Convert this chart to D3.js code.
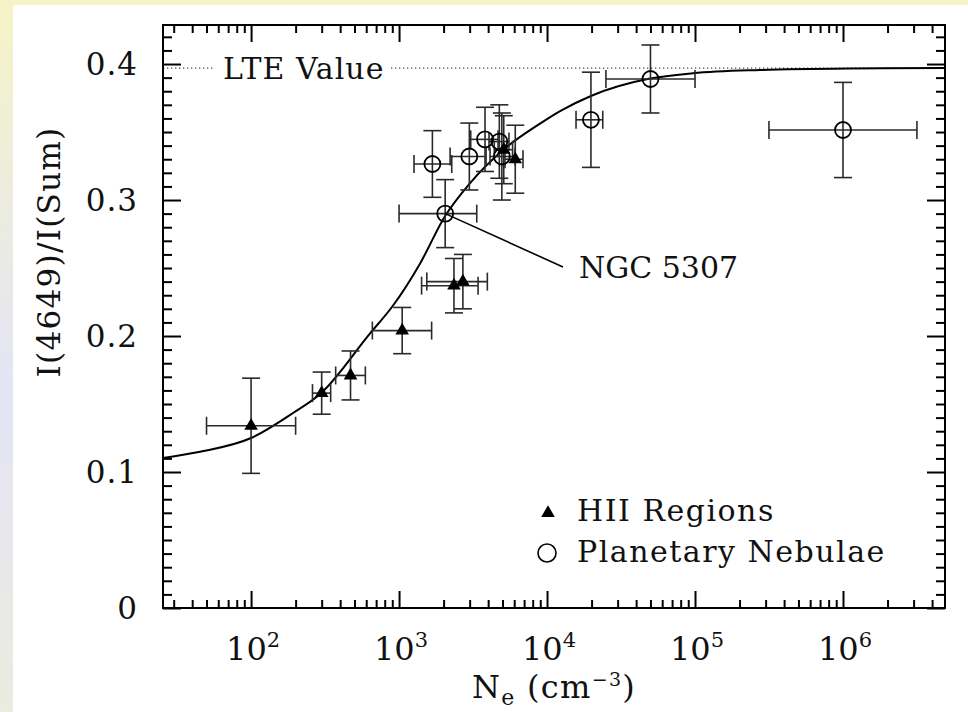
<!DOCTYPE html>
<html lang="en">
  <head>
    <meta charset="UTF-8" />
    <title>I(4649)/I(Sum) vs Ne</title>
    <script src="https://d3js.org/d3.v7.min.js"></script>
    <style>
      body {
        margin: 0;
        background-color: #ffffff;
      }
      text {
        font-family: "DejaVu Serif", serif;
        fill: #111;
      }
    </style>
  </head>
  <body>
    <div id="my_dataviz"></div>
    <script>
      // HII regions (filled triangles)
      var hiiNe = [100, 300, 470, 1050, 2350, 2700, 5100, 6100];
      var hiiNeLo = [50, 260, 373, 660, 1420, 1540, 4400, 5200];
      var hiiNeHi = [200, 345, 592, 1660, 3420, 3950, 5850, 6880];
      var hiiRatio = [0.134, 0.158, 0.171, 0.204, 0.237, 0.24, 0.337, 0.33];
      var hiiErr = [0.035, 0.0155, 0.018, 0.017, 0.02, 0.02, 0.025, 0.025];

      // planetary nebulae (open circles)
      var pnNe = [1680, 2050, 2985, 3810, 4760, 4950, 19800, 50000, 1000000];
      var pnNeLo = [1262, 1000, 2213, 3050, 4055, 4120, 15700, 25000, 316000];
      var pnNeHi = [2270, 3350, 3873, 4665, 5530, 6080, 23800, 100000, 3160000];
      var pnRatio = [0.3265, 0.29, 0.332, 0.3446, 0.343, 0.332, 0.359, 0.389, 0.3515];
      var pnErr = [0.0245, 0.025, 0.0246, 0.0236, 0.027, 0.032, 0.035, 0.025, 0.035];

      // model curve
      var fitNe = [25.4, 45.2, 100, 192, 293, 637, 898, 1388, 2047, 3021, 5048, 8970, 12250, 19800, 49700, 96800, 275000, 1110000, 4890000];
      var fitRatio = [0.1103, 0.1149, 0.125, 0.1434, 0.1574, 0.202, 0.2215, 0.2534, 0.2882, 0.3125, 0.3368, 0.3562, 0.3654, 0.3765, 0.3893, 0.3932, 0.3956, 0.3967, 0.397];

      var lteValue = 0.397;
      var yTicks = [0, 0.1, 0.2, 0.3, 0.4];
      var yTickLabels = ["0", "0.1", "0.2", "0.3", "0.4"];
      var xTicks = [100, 1000, 10000, 100000, 1000000];
      var xTickExps = ["2", "3", "4", "5", "6"];

      var W = 968, H = 712;
      var margin = { top: 25, right: 23, bottom: 104, left: 163 };
      var x0 = margin.left, x1 = W - margin.right;
      var y0 = H - margin.bottom, y1 = margin.top;

      var svg = d3
        .select("#my_dataviz")
        .append("svg")
        .attr("width", W)
        .attr("height", H);

      // page frame with pale gradient strips
      var defs = svg.append("defs");
      var grad = defs.append("linearGradient")
        .attr("id", "leftgrad")
        .attr("x1", 0).attr("y1", 0).attr("x2", 0).attr("y2", 1);
      grad.append("stop").attr("offset", "0%").attr("stop-color", "#f6f4c6");
      grad.append("stop").attr("offset", "55%").attr("stop-color", "#e4e4f6");
      grad.append("stop").attr("offset", "100%").attr("stop-color", "#ecebdf");

      svg.append("rect").attr("width", W).attr("height", H).attr("fill", "#fff");
      svg.append("rect").attr("width", W).attr("height", 5).attr("fill", "#f6f4c6");
      svg.append("rect").attr("width", 13).attr("height", H).attr("fill", "url(#leftgrad)");

      var x = d3.scaleLog().domain([25.4, 4.89e6]).range([x0, x1]);
      var y = d3.scaleLinear().domain([0, 0.4287]).range([y0, y1]);

      // minor ticks
      var xMinor = [];
      for (var e = 1; e <= 6; e++) {
        for (var m = 2; m <= 9; m++) {
          var v = m * Math.pow(10, e);
          if (v > x.domain()[0] && v < x.domain()[1]) xMinor.push(v);
        }
      }
      var yMinor = d3.range(0, 43).map(function (i) { return i / 100; })
        .filter(function (v) { return Math.round(v * 100) % 10 !== 0; });

      function styleAxis(g) {
        g.select(".domain").remove();
        g.selectAll("line").attr("stroke", "#000").attr("stroke-width", 2);
        g.selectAll("text").remove();
      }

      // bottom and top
      svg.append("g").attr("transform", "translate(0," + y0 + ")")
        .call(d3.axisTop(x).tickValues(xTicks).tickSize(17)).call(styleAxis);
      svg.append("g").attr("transform", "translate(0," + y0 + ")")
        .call(d3.axisTop(x).tickValues(xMinor).tickSize(8)).call(styleAxis);
      svg.append("g").attr("transform", "translate(0," + y1 + ")")
        .call(d3.axisBottom(x).tickValues(xTicks).tickSize(17)).call(styleAxis);
      svg.append("g").attr("transform", "translate(0," + y1 + ")")
        .call(d3.axisBottom(x).tickValues(xMinor).tickSize(8)).call(styleAxis);

      // left and right
      svg.append("g").attr("transform", "translate(" + x0 + ",0)")
        .call(d3.axisRight(y).tickValues(yTicks).tickSize(18)).call(styleAxis);
      svg.append("g").attr("transform", "translate(" + x0 + ",0)")
        .call(d3.axisRight(y).tickValues(yMinor).tickSize(9)).call(styleAxis);
      svg.append("g").attr("transform", "translate(" + x1 + ",0)")
        .call(d3.axisLeft(y).tickValues(yTicks).tickSize(18)).call(styleAxis);
      svg.append("g").attr("transform", "translate(" + x1 + ",0)")
        .call(d3.axisLeft(y).tickValues(yMinor).tickSize(9)).call(styleAxis);

      // tick labels
      svg.selectAll(".ylab")
        .data(yTicks)
        .enter()
        .append("text")
        .attr("x", x0 - 25)
        .attr("y", function (d) { return y(d) + 11; })
        .attr("text-anchor", "end")
        .style("font-size", "31px")
        .style("letter-spacing", "1px")
        .text(function (d, i) { return yTickLabels[i]; });

      var xl = svg.selectAll(".xlab")
        .data(xTicks)
        .enter()
        .append("text")
        .attr("x", function (d) { return x(d) + 2; })
        .attr("y", y0 + 52)
        .attr("text-anchor", "middle")
        .style("font-size", "32px");
      xl.append("tspan").text("10");
      xl.append("tspan").attr("dy", -13).style("font-size", "21px")
        .text(function (d, i) { return xTickExps[i]; });

      // axis titles
      var xt = svg.append("text")
        .attr("x", (x0 + x1) / 2)
        .attr("y", 698)
        .attr("text-anchor", "middle")
        .style("font-size", "32px")
        .style("letter-spacing", "1.3px");
      xt.append("tspan").text("N");
      xt.append("tspan").attr("dy", 7).style("font-size", "22px").text("e");
      xt.append("tspan").attr("dy", -7).text(" (cm");
      xt.append("tspan").attr("dy", -12).style("font-size", "19px").text("\u22123");
      xt.append("tspan").attr("dy", 12).text(")");

      svg.append("text")
        .attr("transform", "translate(60,252)rotate(-90)")
        .attr("text-anchor", "middle")
        .style("font-size", "31px")
        .style("letter-spacing", "1.3px")
        .text("I(4649)/I(Sum)");

      // LTE line
      svg.append("line")
        .attr("x1", x0).attr("x2", x1)
        .attr("y1", y(lteValue)).attr("y2", y(lteValue))
        .attr("stroke", "#444")
        .attr("stroke-width", 1.3)
        .attr("stroke-dasharray", "1.3,2.7");
      svg.append("rect")
        .attr("x", 214).attr("y", y(lteValue) - 14)
        .attr("width", 176).attr("height", 28)
        .attr("fill", "#fff");
      svg.append("text")
        .attr("x", 223)
        .attr("y", 79)
        .style("font-size", "30px")
        .style("letter-spacing", "1px")
        .text("LTE Value");

      // fitted curve
      var line = d3.line()
        .x(function (d) { return x(d[0]); })
        .y(function (d) { return y(d[1]); })
        .curve(d3.curveMonotoneX);
      svg.append("path")
        .datum(d3.zip(fitNe, fitRatio))
        .attr("d", line)
        .attr("fill", "none")
        .attr("stroke", "#000")
        .attr("stroke-width", 2);

      // error bars
      var cap = 9;
      function errorBars(ne, lo, hi, r, err) {
        var g = svg.append("g").attr("stroke", "#2a2a2a").attr("stroke-width", 1.6);
        ne.forEach(function (n, i) {
          var cx = x(n), cy = y(r[i]);
          var ya = y(r[i] + err[i]), yb = y(r[i] - err[i]);
          var xa = x(lo[i]), xb = x(hi[i]);
          g.append("line").attr("x1", cx).attr("x2", cx).attr("y1", ya).attr("y2", yb);
          g.append("line").attr("x1", cx - cap).attr("x2", cx + cap).attr("y1", ya).attr("y2", ya);
          g.append("line").attr("x1", cx - cap).attr("x2", cx + cap).attr("y1", yb).attr("y2", yb);
          g.append("line").attr("x1", xa).attr("x2", xb).attr("y1", cy).attr("y2", cy);
          g.append("line").attr("x1", xa).attr("x2", xa).attr("y1", cy - cap).attr("y2", cy + cap);
          g.append("line").attr("x1", xb).attr("x2", xb).attr("y1", cy - cap).attr("y2", cy + cap);
        });
      }
      errorBars(hiiNe, hiiNeLo, hiiNeHi, hiiRatio, hiiErr);
      errorBars(pnNe, pnNeLo, pnNeHi, pnRatio, pnErr);

      var tri = d3.symbol().type(d3.symbolTriangle).size(80);
      svg.selectAll(".hii")
        .data(hiiNe)
        .enter()
        .append("path")
        .attr("d", tri)
        .attr("transform", function (d, i) {
          return "translate(" + x(d) + "," + y(hiiRatio[i]) + ")";
        })
        .attr("fill", "#000");

      svg.selectAll(".pn")
        .data(pnNe)
        .enter()
        .append("circle")
        .attr("cx", function (d) { return x(d); })
        .attr("cy", function (d, i) { return y(pnRatio[i]); })
        .attr("r", 8)
        .attr("fill", "none")
        .attr("stroke", "#000")
        .attr("stroke-width", 1.8);

      // NGC 5307 annotation
      var ngcX = 579, ngcY = 278;
      svg.append("line")
        .attr("x1", x(pnNe[1])).attr("y1", y(pnRatio[1]))
        .attr("x2", ngcX - 16).attr("y2", ngcY - 11)
        .attr("stroke", "#000").attr("stroke-width", 1.6);
      svg.append("text")
        .attr("x", ngcX).attr("y", ngcY)
        .style("font-size", "30px")
        .text("NGC 5307");

      // legend
      svg.append("path")
        .attr("d", tri)
        .attr("transform", "translate(548,513)")
        .attr("fill", "#000");
      svg.append("circle")
        .attr("cx", 547).attr("cy", 553).attr("r", 9)
        .attr("fill", "none").attr("stroke", "#000").attr("stroke-width", 1.6);
      svg.append("text").attr("x", 577).attr("y", 521)
        .style("font-size", "30px").style("letter-spacing", "1.5px").text("HII Regions");
      svg.append("text").attr("x", 577).attr("y", 562)
        .style("font-size", "30px").style("letter-spacing", "1.5px").text("Planetary Nebulae");

      // plot frame
      svg.append("rect")
        .attr("x", x0).attr("y", y1)
        .attr("width", x1 - x0).attr("height", y0 - y1)
        .attr("fill", "none")
        .attr("stroke", "#000")
        .attr("stroke-width", 2);
    </script>
  </body>
</html>
